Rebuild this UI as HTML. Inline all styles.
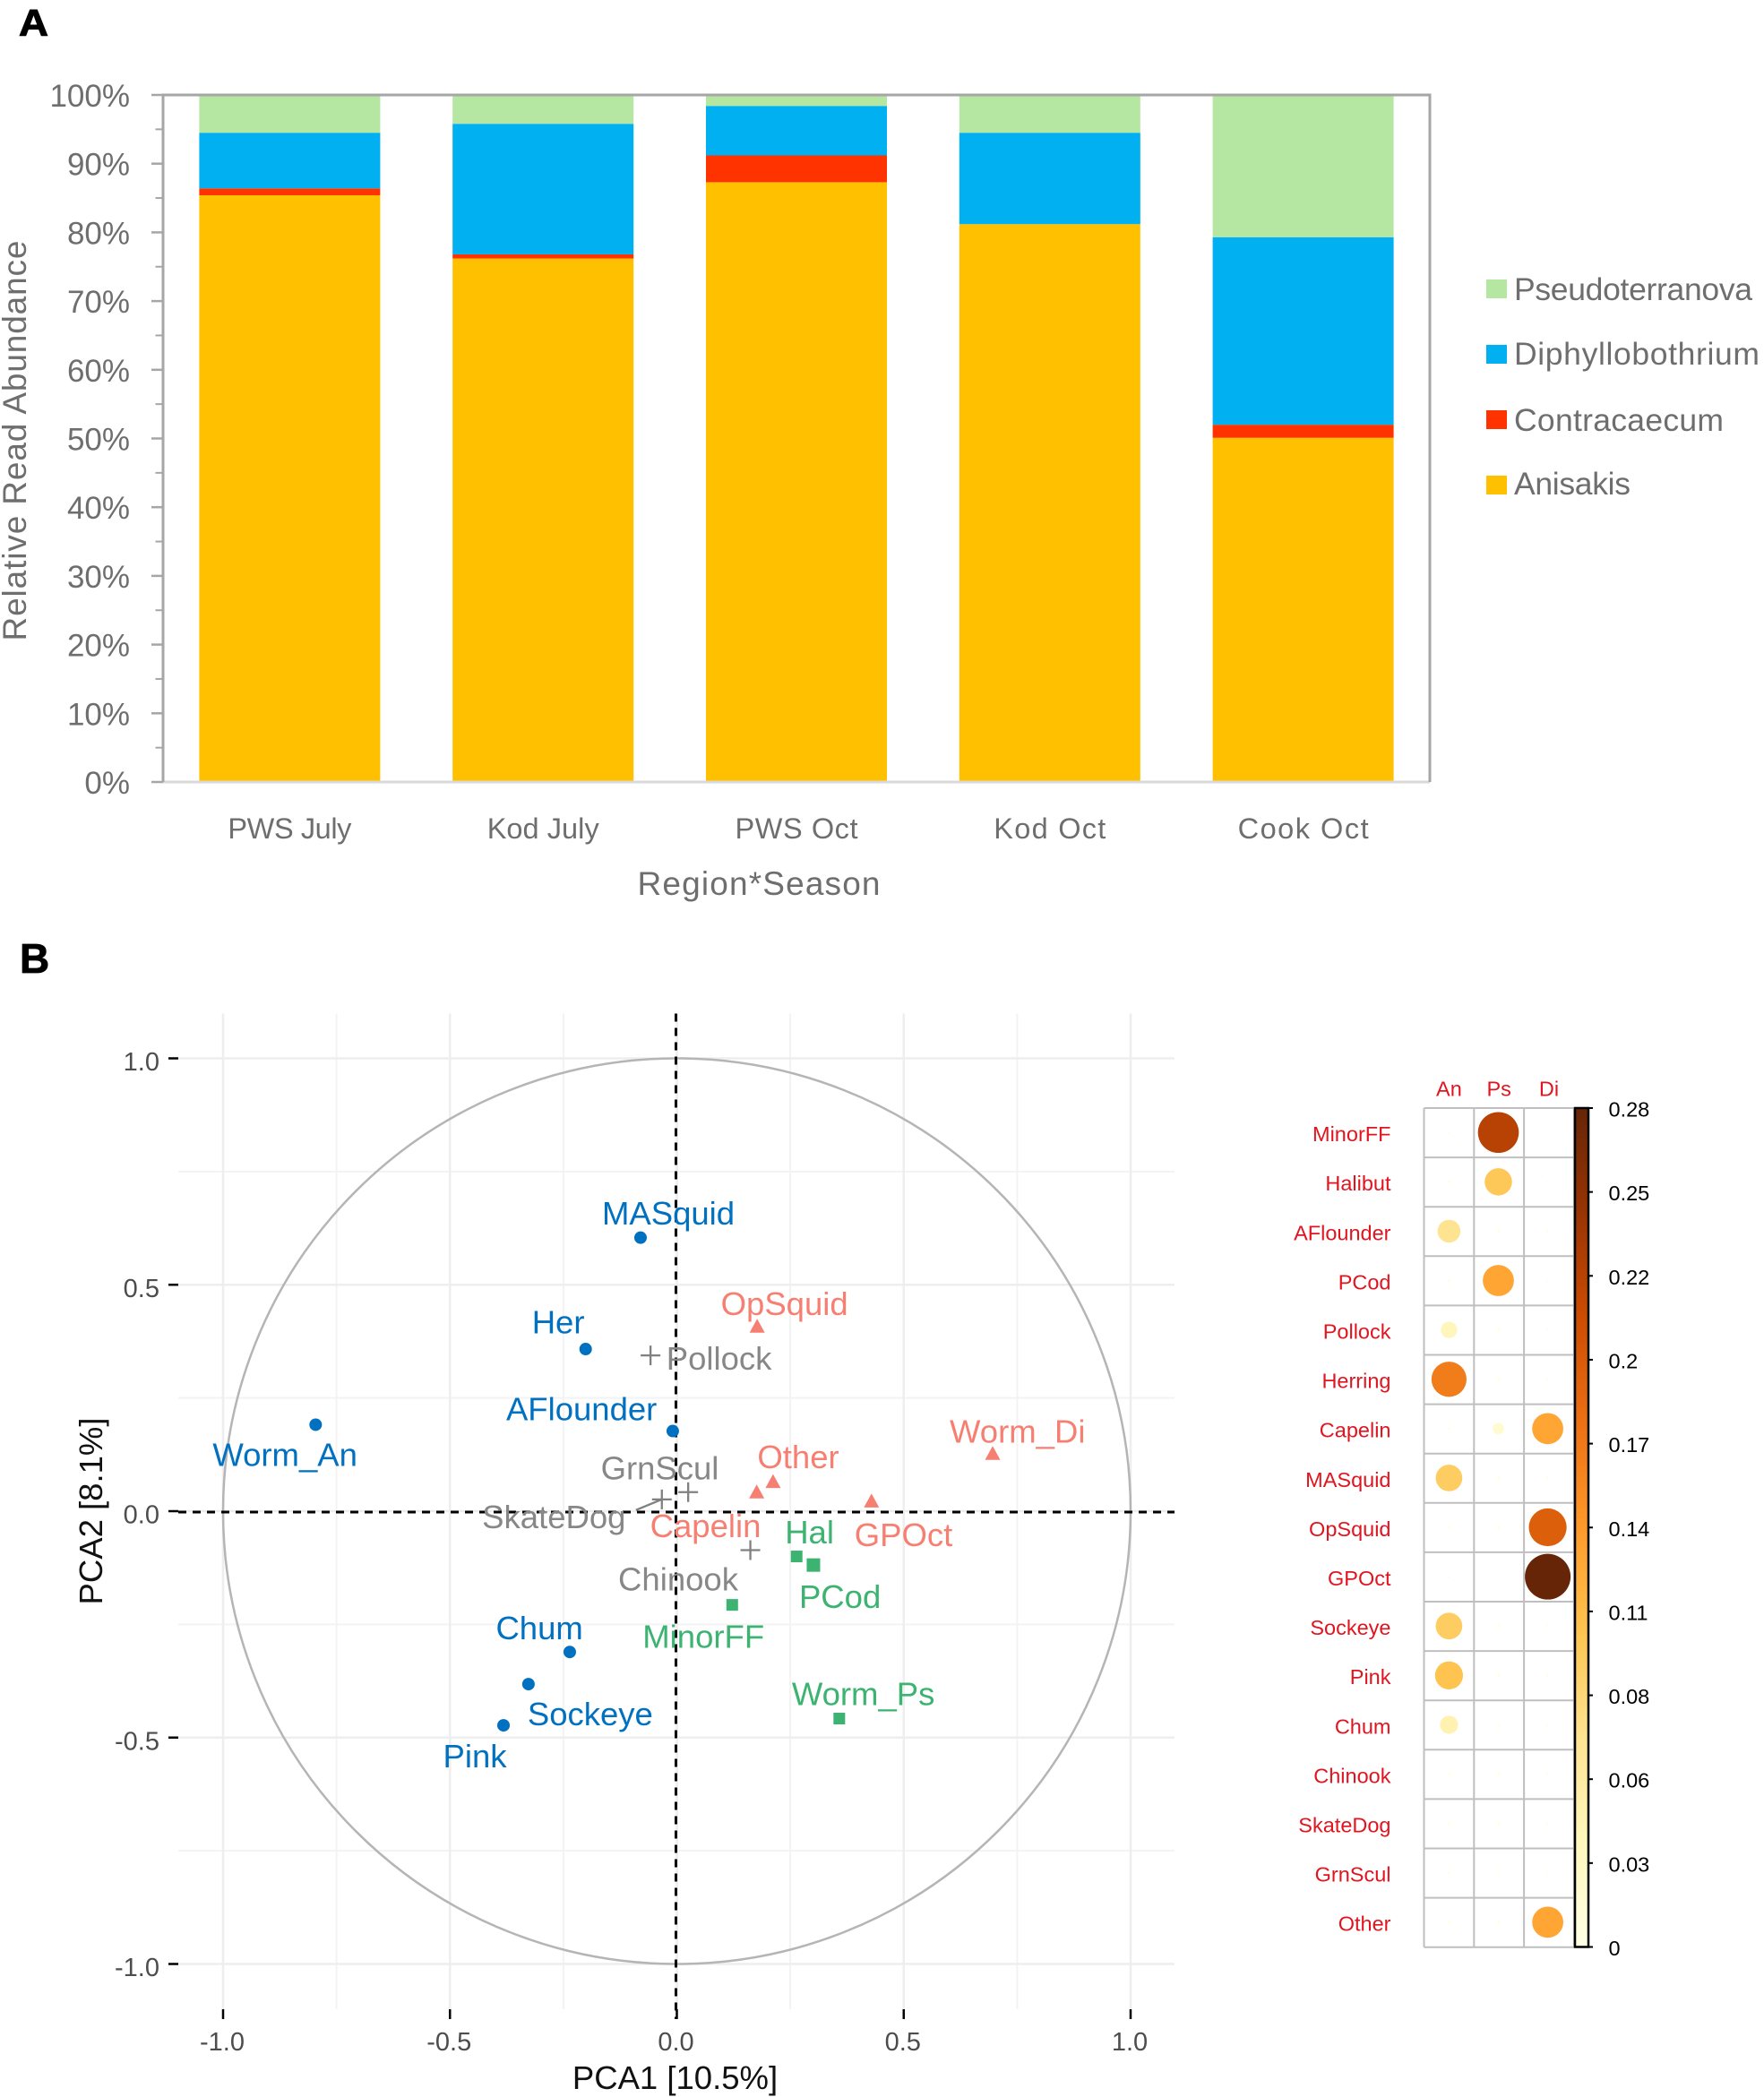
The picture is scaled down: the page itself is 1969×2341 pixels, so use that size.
<!DOCTYPE html>
<html lang="en">
<head>
<meta charset="utf-8">
<title>Relative read abundance, PCA and correlation plot</title>
<style>
html,body{margin:0;padding:0;background:#fff;}
svg{display:block;font-family:"Liberation Sans",Arial,sans-serif;}
</style>
</head>
<body>
<svg id="figure" xmlns="http://www.w3.org/2000/svg" width="1969" height="2341" viewBox="0 0 1969 2341">
<rect x="0" y="0" width="1969" height="2341" fill="#ffffff"/>
<text x="21" y="40" font-size="42" font-weight="bold" fill="#000" stroke="#000" stroke-width="1" textLength="33" lengthAdjust="spacingAndGlyphs">A</text>
<text x="22" y="1086" font-size="46" font-weight="bold" fill="#000" stroke="#000" stroke-width="0.8">B</text>
<text x="0" y="0" transform="translate(29,492) rotate(-90)" text-anchor="middle" font-size="37" fill="#6e6e6e" textLength="447">Relative Read Abundance</text>
<text x="847" y="999" text-anchor="middle" font-size="37" fill="#6e6e6e" textLength="271">Region*Season</text>
<text x="753.5" y="2332" text-anchor="middle" font-size="36.5" fill="#111">PCA1 [10.5%]</text>
<text x="0" y="0" transform="translate(114,1687) rotate(-90)" text-anchor="middle" font-size="36.5" fill="#111">PCA2 [8.1%]</text>
</svg>
<script>
// ---------- Panel A data ----------
const categories = ['PWS July', 'Kod July', 'PWS Oct', 'Kod Oct', 'Cook Oct'];
const anisakis = [85.4, 76.2, 87.3, 81.2, 50.1];
const contracaecum = [1.0, 0.6, 3.9, 0, 1.9];
const diphyllobothrium = [8.1, 19.0, 7.2, 13.3, 27.3];
const pseudoterranova = [5.5, 4.2, 1.6, 5.5, 20.7];
const percentTicks = [0, 10, 20, 30, 40, 50, 60, 70, 80, 90, 100];
const minorPercentTicks = [5, 15, 25, 35, 45, 55, 65, 75, 85, 95];
const legendNames = ['Pseudoterranova', 'Diphyllobothrium', 'Contracaecum', 'Anisakis'];

// ---------- Panel B PCA data ----------
const pcaTicks = [-1, -0.5, 0, 0.5, 1];
const pcaMinorTicks = [-0.75, -0.25, 0.25, 0.75];
const blueNames = ['Worm_An', 'Her', 'MASquid', 'AFlounder', 'Chum', 'Sockeye', 'Pink'];
const bluePc1 = [-0.796, -0.201, -0.080, -0.009, -0.236, -0.327, -0.382];
const bluePc2 = [0.191, 0.358, 0.604, 0.177, -0.311, -0.382, -0.473];
const redNames = ['OpSquid', 'Other', 'Capelin', 'GPOct', 'Worm_Di'];
const redPc1 = [0.177, 0.212, 0.176, 0.429, 0.696];
const redPc2 = [0.408, 0.065, 0.042, 0.022, 0.127];
const grayNames = ['Pollock', 'GrnScul', 'SkateDog', 'Chinook'];
const grayPc1 = [-0.058, 0.025, -0.033, 0.162];
const grayPc2 = [0.344, 0.042, 0.026, -0.086];
const greenNames = ['Hal', 'PCod', 'MinorFF', 'Worm_Ps'];
const greenPc1 = [0.264, 0.301, 0.122, 0.358];
const greenPc2 = [-0.100, -0.119, -0.207, -0.458];

// ---------- Panel B correlation-plot data ----------
const rowNames = ['MinorFF', 'Halibut', 'AFlounder', 'PCod', 'Pollock', 'Herring', 'Capelin', 'MASquid', 'OpSquid', 'GPOct', 'Sockeye', 'Pink', 'Chum', 'Chinook', 'SkateDog', 'GrnScul', 'Other'];
const columnNames = ['An', 'Ps', 'Di'];
const valuesAn = [0.001, 0.001, 0.07, 0.001, 0.036, 0.165, 0.001, 0.095, 0.001, 0.001, 0.095, 0.105, 0.044, 0.001, 0.001, 0.001, 0.001];
const valuesPs = [0.224, 0.10, 0.001, 0.13, 0.001, 0.001, 0.018, 0.001, 0.001, 0.001, 0.001, 0.001, 0.001, 0.001, 0.001, 0.001, 0.001];
const valuesDi = [0.001, 0.001, 0.001, 0.001, 0.001, 0.001, 0.13, 0.001, 0.192, 0.28, 0.001, 0.001, 0.001, 0.001, 0.001, 0.001, 0.13];
const colorbarLabels = ['0', '0.03', '0.06', '0.08', '0.11', '0.14', '0.17', '0.2', '0.22', '0.25', '0.28'];
const colorbarValues = [0, 0.028, 0.056, 0.084, 0.112, 0.14, 0.168, 0.196, 0.224, 0.252, 0.28];
const colorStops = ['#FFFFE5', '#FFF7BC', '#FEE391', '#FEC44F', '#FE9929', '#EC7014', '#CC4C02', '#993404', '#662506'];

// ---------- Layout and style (not data) ----------
const blueLabelOffsets = [[-115, 46], [-60, -17.5], [-43, -14.5], [-186, -12], [-82.5, -14], [-1, 46], [-67.5, 47]];
const redLabelOffsets = [[-40.5, -13], [-17.5, -15], [-119, 50], [-19, 50], [-48, -12.5]];
const grayLabelOffsets = [[17.6, 16], [-97.6, -14.4], [-200.6, 32], [-147.5, 45]];
const greenLabelOffsets = [[-13, -14.6], [-16, 48], [-100, 48], [-53, -15]];
const categoryLabelWidths = [138, 125, 137, 125, 146];
const legendSwatchTops = [312, 385, 458, 531];
const legendBaselines = [335, 407, 481, 552];
const legendTextWidths = [266, 274, 234, 130];

const svg = document.getElementById('figure');
const NS = 'http://www.w3.org/2000/svg';
function make(tag, attrs, text) {
  const node = document.createElementNS(NS, tag);
  for (const key in attrs) node.setAttribute(key, attrs[key]);
  if (text !== undefined) node.textContent = text;
  svg.appendChild(node);
  return node;
}
let el;

// ---------- Panel A scales ----------
const aLeft = 182, aRight = 1596, aTop = 106, aBottom = 873;
const bandA = (aRight - aLeft) / categories.length;
const barWidthA = 202;
function xA(i) { return aLeft + bandA * (i + 0.5); }
function yA(v) { return aBottom - (aBottom - aTop) * v / 100; }

const stackSeries = [
  { name: 'anisakis', values: anisakis, color: '#FFC000' },
  { name: 'contracaecum', values: contracaecum, color: '#FF3300' },
  { name: 'diphyllobothrium', values: diphyllobothrium, color: '#00B0F0' },
  { name: 'pseudoterranova', values: pseudoterranova, color: '#B5E6A2' }
];

categories.forEach(function (cat, i) {
  let base = 0;
  stackSeries.forEach(function (s) {
    const v = s.values[i];
    el = make('rect', { x: xA(i) - barWidthA / 2, y: yA(base + v), width: barWidthA, height: yA(base) - yA(base + v), fill: s.color });
    
    
    base += v;
  });
  el = make('text', { x: xA(i), y: 936, 'text-anchor': 'middle', 'font-size': 32.5, fill: '#6e6e6e', textLength: categoryLabelWidths[i] }, cat);
  
  
});

el = make('line', { x1: aLeft, y1: aBottom, x2: aRight, y2: aBottom, stroke: '#d9d9d9', 'stroke-width': 3 });


el = make('polyline', { points: aLeft + ',' + aBottom + ' ' + aLeft + ',' + aTop + ' ' + aRight + ',' + aTop + ' ' + aRight + ',' + aBottom, fill: 'none', stroke: '#a6a6a6', 'stroke-width': 3 });



percentTicks.forEach(function (t) {
  el = make('line', { x1: 169, y1: yA(t), x2: aLeft, y2: yA(t), stroke: '#a6a6a6', 'stroke-width': 2.5 });
  
  
  el = make('text', { x: 145, y: yA(t) + 13, 'text-anchor': 'end', 'font-size': 35, fill: '#6e6e6e' }, t + '%');
  
  
});
minorPercentTicks.forEach(function (t) {
  el = make('line', { x1: 173.5, y1: yA(t), x2: aLeft, y2: yA(t), stroke: '#a6a6a6', 'stroke-width': 2 });
  
  
});

const legendColors = ['#B5E6A2', '#00B0F0', '#FF3300', '#FFC000'];
legendNames.forEach(function (name, i) {
  el = make('rect', { x: 1659, y: legendSwatchTops[i], width: 23, height: 21, fill: legendColors[i] });
  
  
  el = make('text', { x: 1690, y: legendBaselines[i], 'font-size': 35.5, fill: '#6e6e6e', textLength: legendTextWidths[i] }, name);
  
  
});

// ---------- Panel B PCA scales ----------
const pLeft = 199, pRight = 1311, pTop = 1131.5, pBottom = 2243;
function sx(v) { return 755.5 + 506.5 * v; }
function sy(v) { return 1687 - 505.5 * v; }

pcaMinorTicks.forEach(function (t) {
  el = make('line', { x1: sx(t), y1: pTop, x2: sx(t), y2: pBottom, stroke: '#f3f3f3', 'stroke-width': 2 });
  
  
  el = make('line', { x1: pLeft, y1: sy(t), x2: pRight, y2: sy(t), stroke: '#f3f3f3', 'stroke-width': 2 });
  
  
});
pcaTicks.forEach(function (t) {
  el = make('line', { x1: sx(t), y1: pTop, x2: sx(t), y2: pBottom, stroke: '#eeeeee', 'stroke-width': 2.5 });
  
  
  el = make('line', { x1: pLeft, y1: sy(t), x2: pRight, y2: sy(t), stroke: '#eeeeee', 'stroke-width': 2.5 });
  
  
  el = make('line', { x1: sx(t), y1: pBottom, x2: sx(t), y2: 2254, stroke: '#000', 'stroke-width': 2.5 });
  
  
  el = make('line', { x1: 188, y1: sy(t), x2: pLeft, y2: sy(t), stroke: '#000', 'stroke-width': 2.5 });
  
  
  el = make('text', { x: sx(t) - 1, y: 2289, 'text-anchor': 'middle', 'font-size': 29, fill: '#4d4d4d' }, t.toFixed(1));
  
  
  el = make('text', { x: 178, y: sy(t) + 13.5, 'text-anchor': 'end', 'font-size': 29, fill: '#4d4d4d' }, t.toFixed(1));
  
  
});

el = make('ellipse', { cx: sx(0), cy: sy(0), rx: sx(1) - sx(0), ry: sy(0) - sy(1), fill: 'none', stroke: '#b5b5b5', 'stroke-width': 2.5 });



el = make('line', { x1: pLeft, y1: sy(0) + 1, x2: pRight, y2: sy(0) + 1, stroke: '#000', 'stroke-width': 3, 'stroke-dasharray': '9 7' });


el = make('line', { x1: sx(0) - 1, y1: pTop, x2: sx(0) - 1, y2: 2254, stroke: '#000', 'stroke-width': 3, 'stroke-dasharray': '9 7' });



function addLabel(name, px, py, off, color) {
  const t = make('text', { x: px + off[0], y: py + off[1], 'font-size': 36.5, fill: color }, name);
  
  
}

blueNames.forEach(function (name, i) {
  const px = sx(bluePc1[i]), py = sy(bluePc2[i]);
  el = make('circle', { cx: px, cy: py, r: 7, fill: '#0070C0' });
  
  
  addLabel(name, px, py, blueLabelOffsets[i], '#0070C0');
});
redNames.forEach(function (name, i) {
  const px = sx(redPc1[i]), py = sy(redPc2[i]);
  el = make('polygon', { points: px + ',' + (py - 8.5) + ' ' + (px + 8.5) + ',' + (py + 7) + ' ' + (px - 8.5) + ',' + (py + 7), fill: '#F77F72' });
  
  
  addLabel(name, px, py, redLabelOffsets[i], '#F77F72');
});
grayNames.forEach(function (name, i) {
  const px = sx(grayPc1[i]), py = sy(grayPc2[i]);
  el = make('path', { d: 'M' + (px - 11) + ' ' + py + 'H' + (px + 11) + 'M' + px + ' ' + (py - 11) + 'V' + (py + 11), stroke: '#808080', 'stroke-width': 2.3, fill: 'none' });
  
  
  addLabel(name, px, py, grayLabelOffsets[i], '#878787');
  if (name === 'SkateDog') {
    el = make('line', { x1: px, y1: py, x2: px - 29, y2: py + 12, stroke: '#808080', 'stroke-width': 2.3 });
    
    
  }
});
greenNames.forEach(function (name, i) {
  const px = sx(greenPc1[i]), py = sy(greenPc2[i]);
  const half = name === 'PCod' ? 7.5 : 6.5;
  el = make('rect', { x: px - half, y: py - half, width: half * 2, height: half * 2, fill: '#3CB371' });
  
  
  addLabel(name, px, py, greenLabelOffsets[i], '#3CB371');
});

// ---------- Correlation plot ----------
const gridLeft = 1589.5, colW = 55.8, gridTop = 1237, rowH = 55.1, redText = '#E0151F';
function colX(i) { return gridLeft + colW * i; }
function rowY(i) { return gridTop + rowH * i; }
function colorFor(v) {
  const t = Math.min(1, Math.max(0, v / 0.28)) * (colorStops.length - 1);
  const k = Math.min(colorStops.length - 2, Math.floor(t));
  const f = t - k;
  const a = colorStops[k], b = colorStops[k + 1];
  const ch = function (p) {
    const u = parseInt(a.substr(p, 2), 16), w = parseInt(b.substr(p, 2), 16);
    return Math.round(u + (w - u) * f);
  };
  return 'rgb(' + ch(1) + ',' + ch(3) + ',' + ch(5) + ')';
}
function radiusFor(v) { return 25.5 * Math.sqrt(v / 0.28); }

for (let i = 0; i <= columnNames.length; i++) {
  el = make('line', { x1: colX(i), y1: gridTop, x2: colX(i), y2: rowY(rowNames.length), stroke: '#bfbfbf', 'stroke-width': 2 });
  
  
}
for (let i = 0; i <= rowNames.length; i++) {
  el = make('line', { x1: gridLeft, y1: rowY(i), x2: colX(columnNames.length), y2: rowY(i), stroke: '#bfbfbf', 'stroke-width': 2 });
  
  
}

columnNames.forEach(function (name, c) {
  el = make('text', { x: colX(c) + colW / 2, y: 1223.5, 'text-anchor': 'middle', 'font-size': 23.5, fill: redText }, name);
  
  
});
const columnValues = [valuesAn, valuesPs, valuesDi];
rowNames.forEach(function (name, r) {
  el = make('text', { x: 1552.5, y: rowY(r) + rowH / 2 + 9.5, 'text-anchor': 'end', 'font-size': 23.5, fill: redText }, name);
  
  
  columnValues.forEach(function (vals, c) {
    el = make('circle', { cx: colX(c) + colW / 2 - c * 0.7, cy: rowY(r) + rowH / 2 - 0.3, r: radiusFor(vals[r]), fill: colorFor(vals[r]) });
    
    
  });
});

// ---------- Colour bar ----------
const cbLeft = 1758, cbRight = 1773, cbTop = 1237, cbBottom = 2173.5;
function cbY(v) { return cbBottom - (cbBottom - cbTop) * v / 0.28; }
const defs = make('defs', {});
const grad = document.createElementNS(NS, 'linearGradient');
grad.setAttribute('id', 'cb-gradient');
grad.setAttribute('x1', '0'); grad.setAttribute('y1', '1');
grad.setAttribute('x2', '0'); grad.setAttribute('y2', '0');
colorStops.forEach(function (c, i) {
  const s = document.createElementNS(NS, 'stop');
  s.setAttribute('offset', i / (colorStops.length - 1));
  s.setAttribute('stop-color', c);
  grad.appendChild(s);
});
defs.appendChild(grad);
el = make('rect', { x: cbLeft, y: cbTop, width: cbRight - cbLeft, height: cbBottom - cbTop, fill: 'url(#cb-gradient)', stroke: '#000', 'stroke-width': 2.5 });


colorbarValues.forEach(function (v, i) {
  el = make('line', { x1: cbRight, y1: cbY(v), x2: 1778, y2: cbY(v), stroke: '#000', 'stroke-width': 2 });
  
  
  el = make('text', { x: 1795.5, y: cbY(v) + 9.5, 'font-size': 23.5, fill: '#000' }, colorbarLabels[i]);
  
  
});
</script>
</body>
</html>
